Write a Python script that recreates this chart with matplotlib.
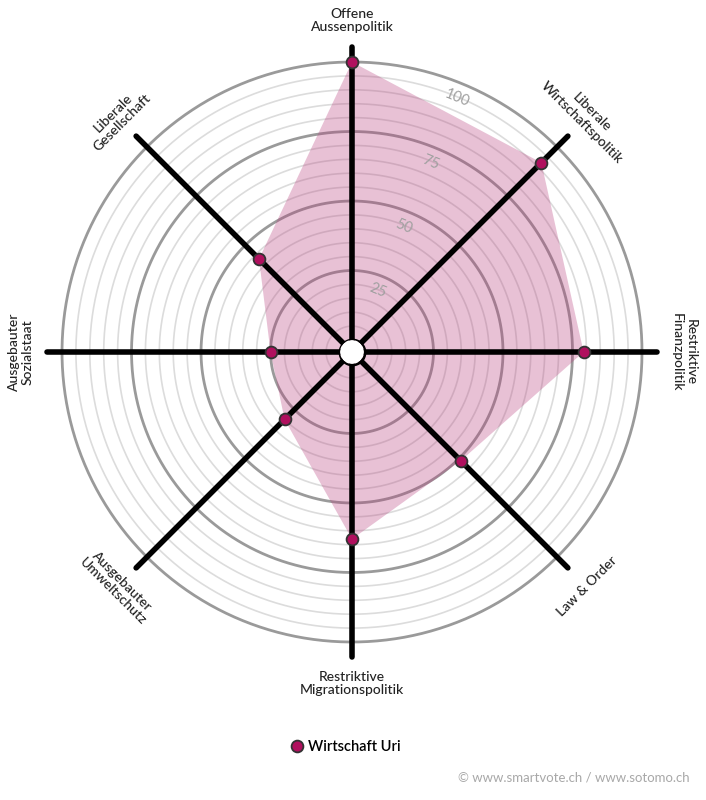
import numpy as np
import matplotlib.pyplot as plt

plt.rcParams['font.family'] = ['Lato', 'DejaVu Sans']

# Achsen (im Uhrzeigersinn ab oben) und Werte
kategorien = ["Offene\nAussenpolitik", "Liberale\nWirtschaftspolitik",
              "Restriktive\nFinanzpolitik", "Law & Order",
              "Restriktive\nMigrationspolitik", "Ausgebauter\nUmweltschutz",
              "Ausgebauter\nSozialstaat", "Liberale\nGesellschaft"]
werte = [100, 92, 79, 51, 63, 30, 25, 43]
serie = "Wirtschaft Uri"
ring_labels = [25, 50, 75, 100]

pink = '#b0105e'
winkel = np.deg2rad(np.arange(len(kategorien)) * 360 / len(kategorien))

fig = plt.figure(figsize=(7.06, 8.0), dpi=100)
ax = fig.add_axes([0.04844, 0.16275, 0.9003, 0.7945], projection='polar')
ax.set_theta_zero_location('N')
ax.set_theta_direction(-1)
ax.set_rorigin(-4.3)
ax.set_ylim(0, 110)
ax.set_axis_off()

# Ringe
t = np.linspace(0, 2 * np.pi, 400)
for r in range(5, 101, 5):
    if r % 25 == 0:
        ax.plot(t, np.full_like(t, r), color='#9a9a9a', lw=2.0, zorder=2)
    else:
        ax.plot(t, np.full_like(t, r), color='#dcdcdc', lw=1.2, zorder=1)

# Fläche
w = np.append(winkel, winkel[0])
v = np.append(werte, werte[0])
ax.fill(w, v, color='#b8407e', alpha=0.32, lw=0, zorder=3)

# Speichen
for a in winkel:
    ax.plot([a, a], [-1, 105.5], color='black', lw=4.0, solid_capstyle='round', zorder=4)

# Mittelpunkt
ax.plot([0], [-4.3], marker='o', ms=16, mfc='white', mec='black', mew=4, zorder=6)

# Punkte
ax.plot(winkel, werte, ls='none', marker='o', ms=8.5, mfc=pink, mec='#333333', mew=1.3,
        zorder=7, label=serie)

# Ringbeschriftung
for r in ring_labels:
    ax.text(np.deg2rad(22.5), r - 5.5, str(r), color='#a0a0a0', fontsize=10.5,
            rotation=-22.5, ha='center', va='center', zorder=5)

# Achsenbeschriftung
for a, lab in zip(winkel, kategorien):
    deg = np.rad2deg(a)
    if deg <= 90 or deg >= 270:
        rot = -deg if deg <= 90 else 360 - deg
    else:
        rot = 180 - deg
    ax.text(a, 115, lab, rotation=rot, rotation_mode='anchor', ha='center', va='center',
            fontsize=10, fontweight='medium', color='#222222', linespacing=1.15,
            clip_on=False)

fig.legend(loc='center', bbox_to_anchor=(345 / 706, 1 - 747 / 800), frameon=False,
           handletextpad=0.3, markerscale=1.0, prop={'size': 10.5, 'weight': 'semibold'},
           handlelength=1.0)

fig.text(690 / 706, 1 - 778 / 800, "© www.smartvote.ch / www.sotomo.ch", ha='right',
         va='center', color='#a8a8a8', fontsize=9.5)

fig.savefig("out.png", dpi=100, facecolor='white')
